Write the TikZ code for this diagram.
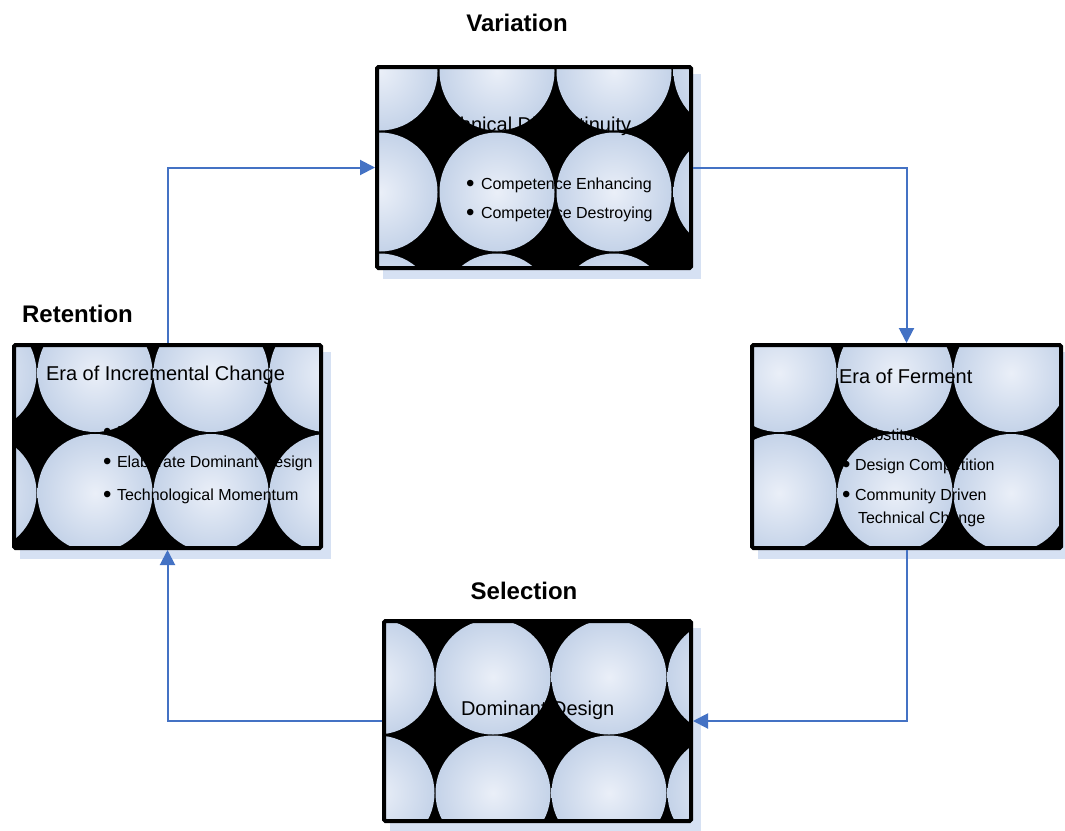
\documentclass[tikz,border=0pt]{standalone}
\usepackage{fontspec}
\setmainfont{Liberation Sans}
\usetikzlibrary{arrows.meta,shadows}

\definecolor{ballin}{RGB}{234,239,248}
\definecolor{ballout}{RGB}{186,203,228}
\definecolor{shadowblue}{RGB}{214,225,243}
\definecolor{flowblue}{RGB}{68,114,196}

% soft light-blue sphere used for the tiled box pattern
\pgfdeclareradialshading{ballshade}{\pgfpoint{0bp}{0bp}}%
  {color(0bp)=(ballin); color(32bp)=(ballout); color(50bp)=(ballout)}

% grid of shaded balls: x centres, y centres, x radius, y radius
\newcommand\ballgrid[4]{%
  \foreach \cx in {#1}{%
    \foreach \cy in {#2}{%
      \shade[shading=ballshade] (\cx,\cy) ellipse[x radius=#3, y radius=#4];
    }%
  }%
}
% bullet mark set in a box of the given width
\newcommand\bul[1]{\makebox[#1][l]{\raisebox{-2.5pt}{\fontsize{24}{24}\selectfont\textbullet}}}

\begin{document}
\begin{tikzpicture}[x=1pt,y=-1pt,
  stage/.style={rectangle, fill=black, inner sep=0pt, outer sep=0pt,
    general shadow={fill=shadowblue, draw=shadowblue, line width=4pt,
      shadow xshift=8pt, shadow yshift=-9pt}},
  rim/.style={draw=black, line width=4pt, rounded corners=1.5pt},
  label/.style={inner sep=0pt, outer sep=0pt},
  title/.style={label, font=\fontsize{24}{28}\selectfont\bfseries, anchor=base},
  heading/.style={label, font=\fontsize{20}{24}\selectfont, anchor=base west},
  item/.style={label, font=\fontsize{16}{19}\selectfont, anchor=base west},
  flow/.style={draw=flowblue, line width=2pt,
    -{Triangle[length=15pt,width=15pt]}, shorten >=2pt, shorten <=2pt},
]
\useasboundingbox (0,0) rectangle (1065,830);

% the four stage boxes
\node[stage, minimum width=314pt, minimum height=201pt] (disc) at (534,167.5) {};
\node[stage, minimum width=307pt, minimum height=203pt] (incr) at (167.5,446.5) {};
\node[stage, minimum width=309pt, minimum height=203pt] (ferm) at (906.5,446.5) {};
\node[stage, minimum width=307pt, minimum height=200pt] (dom) at (537.5,721) {};

% ball patterns inside each box
\begin{scope}
  \clip (disc.south west) rectangle (disc.north east);
  \ballgrid{380,497,614,731}{71,192,313}{57.5}{59.5}
\end{scope}
\begin{scope}
  \clip (incr.south west) rectangle (incr.north east);
  \ballgrid{-21,95,211,327}{373,493}{57.5}{59}
\end{scope}
\begin{scope}
  \clip (ferm.south west) rectangle (ferm.north east);
  \ballgrid{779,895,1011}{373,493}{57.5}{59}
\end{scope}
\begin{scope}
  \clip (dom.south west) rectangle (dom.north east);
  \ballgrid{377,493,609,725}{677,793}{57.5}{57.5}
\end{scope}

% box outlines
\draw[rim] (disc.south west) rectangle (disc.north east);
\draw[rim] (incr.south west) rectangle (incr.north east);
\draw[rim] (ferm.south west) rectangle (ferm.north east);
\draw[rim] (dom.south west) rectangle (dom.north east);

% phase titles
\node[title] (tvar) at (517,31) {Variation};
\node[title] (tret) at (77.5,322) {Retention};
\node[title] (tsel) at (524,599) {Selection};

% technical discontinuity
\node[heading, anchor=base] (hdisc) at (530,131) {Technical Discontinuity};
\node[item] (d1) at (466,189) {\bul{15pt}Competence Enhancing};
\node[item] (d2) at (466,218) {\bul{15pt}Competence Destroying};

% era of incremental change
\node[heading] (hincr) at (46,380) {Era of Incremental Change};
\node[item] (i1) at (103,437) {\bul{14pt}Routines};
\node[item] (i2) at (103,467) {\bul{14pt}Elaborate Dominant Design};
\node[item] (i3) at (103,500) {\bul{14pt}Technological Momentum};

% era of ferment
\node[heading] (hferm) at (839,383) {Era of Ferment};
\node[item] (f1) at (842,440) {\bul{13pt}Substitution};
\node[item] (f2) at (842,470) {\bul{13pt}Design Competition};
\node[item] (f3) at (842,500) {\bul{13pt}Community Driven};
\node[item] (f4) at (858,523) {Technical Change};

% dominant design
\node[heading] (hdom) at (461,715) {Dominant Design};

% cycle connectors
\draw[flow] (incr.north) |- (disc.west);
\draw[flow] (disc.east) -| (ferm.north);
\draw[flow] (ferm.south) |- (dom.east);
\draw[flow] (dom.west) -| (incr.south);
\end{tikzpicture}
\end{document}
